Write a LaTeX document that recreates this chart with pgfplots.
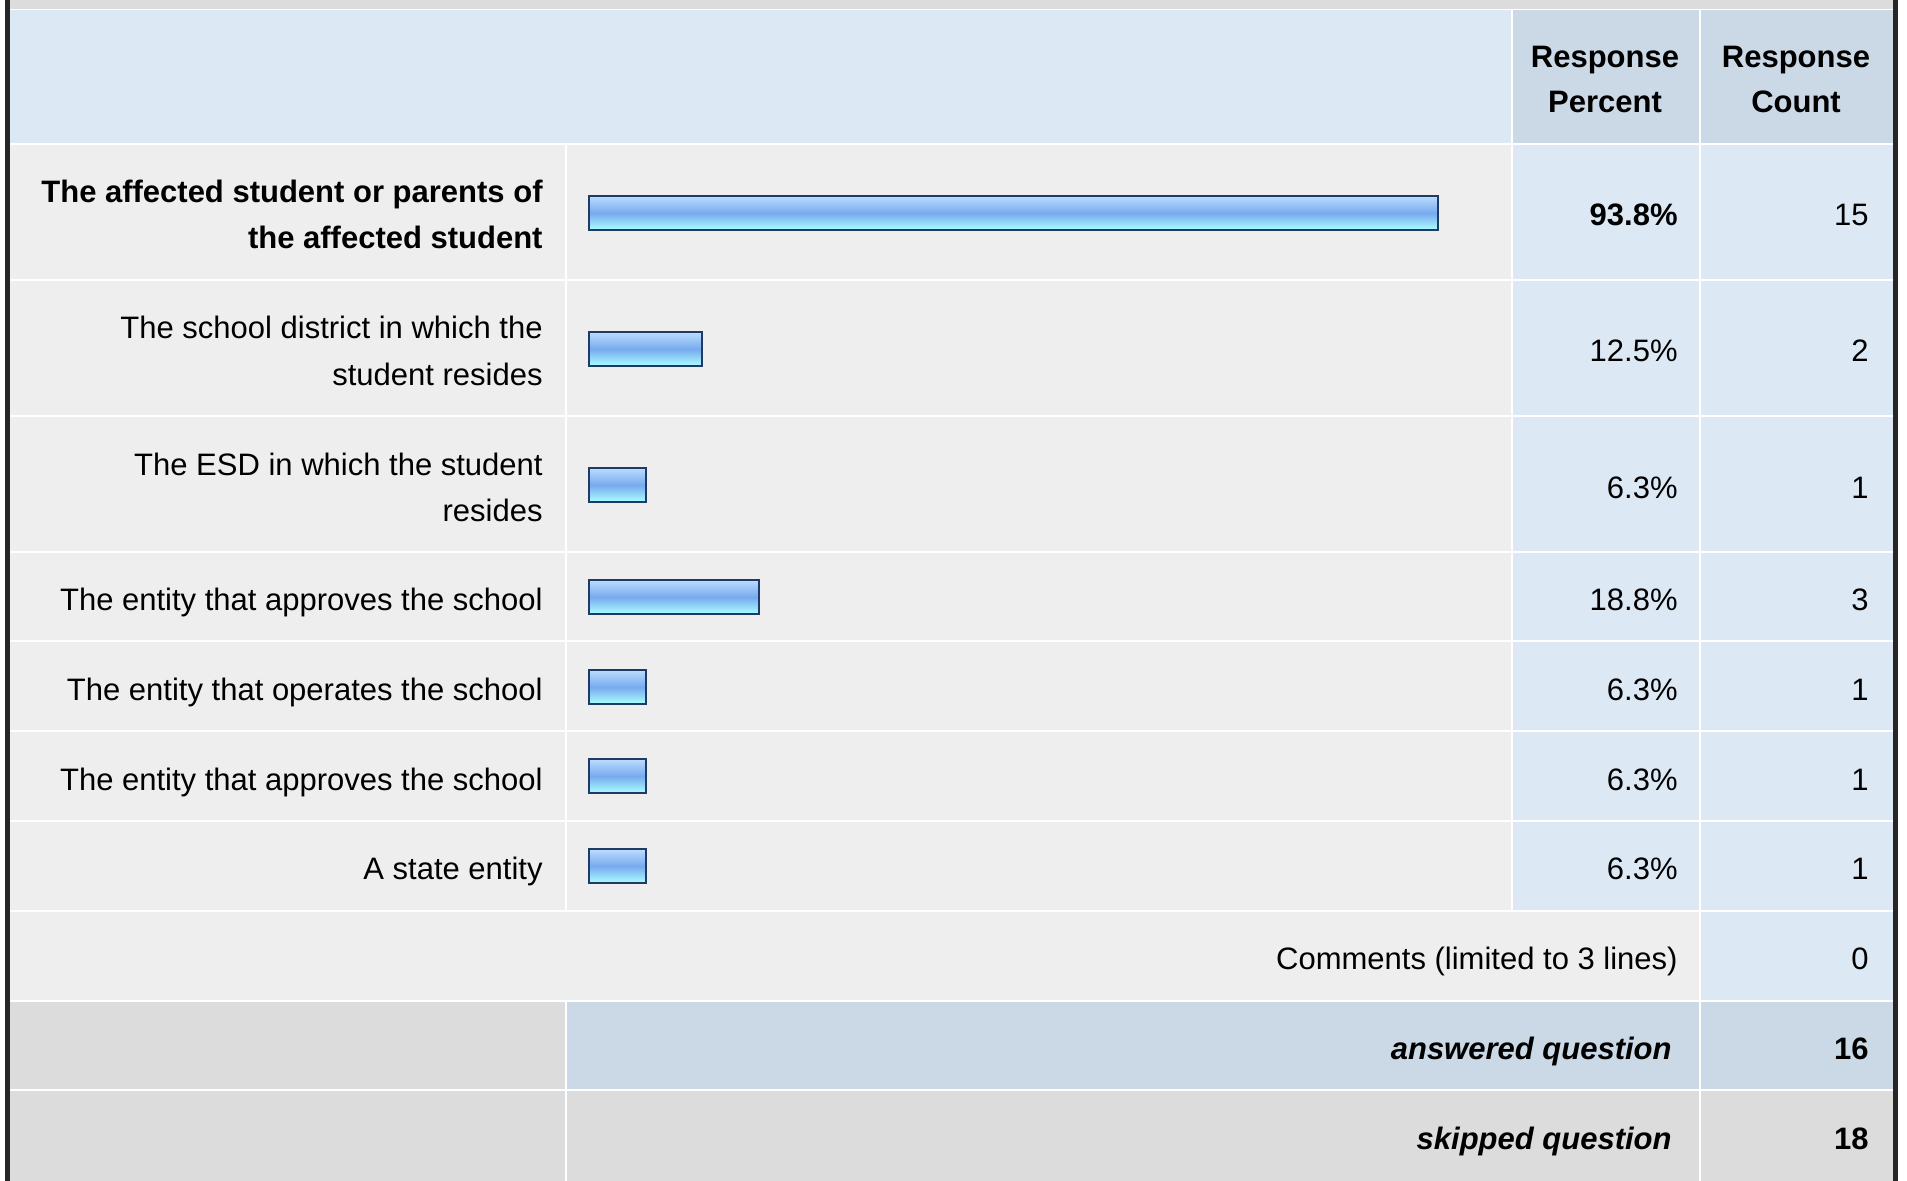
\documentclass[border=0pt]{standalone}
\usepackage{pgfplots}
\pgfplotsset{compat=1.18}
\usepackage{fontspec}
\setmainfont{Liberation Sans}
\definecolor{hdr}{HTML}{DDE8F5}
\definecolor{hdrd}{HTML}{CBD8E6}
\definecolor{cellg}{HTML}{EEEEEE}
\definecolor{darkg}{HTML}{DCDCDC}
\definecolor{navy}{HTML}{1F3A64}
\definecolor{btop}{HTML}{BBDDFF}
\definecolor{bmid}{HTML}{77AAEE}
\definecolor{bbot}{HTML}{AAFFFF}
\newcommand{\cell}[5]{\fill[#5] (#1+1.3,#3+1.3) rectangle (#2-1.3,#4-1.3);}
\newcommand{\f}{\fontsize{15.5}{23}\selectfont}
\begin{document}
\begin{tikzpicture}[x=0.5pt,y=-0.5pt]
\useasboundingbox (0,0) rectangle (1907,1181);
\fill[white] (0,0) rectangle (1907,1181);
\fill[darkg] (9,0) rectangle (1894,9.5);
% header
\cell{9}{1512}{9}{144}{hdr}
\cell{1512}{1700}{9}{144}{hdrd}
\cell{1700}{1894}{9}{144}{hdrd}
% data rows
\foreach \a/\b in {144/280,280/416,416/552,552/641,641/731,731/821,821/911}{
  \cell{9}{566}{\a}{\b}{cellg}
  \cell{566}{1512}{\a}{\b}{cellg}
  \cell{1512}{1700}{\a}{\b}{hdr}
  \cell{1700}{1894}{\a}{\b}{hdr}
}
% comments
\cell{9}{1700}{911}{1001}{cellg}
\cell{1700}{1894}{911}{1001}{hdr}
% answered
\cell{9}{566}{1001}{1090}{darkg}
\cell{566}{1700}{1001}{1090}{hdrd}
\cell{1700}{1894}{1001}{1090}{hdrd}
% skipped
\cell{9}{566}{1090}{1183}{darkg}
\cell{566}{1700}{1090}{1183}{darkg}
\cell{1700}{1894}{1090}{1183}{darkg}
% borders
\fill[black!85] (5,0) rectangle (9.5,1181);
\fill[black!85] (1893,0) rectangle (1897.5,1181);

\begin{axis}[at={(294.5pt,0pt)}, anchor=north west, scale only axis,
  width=452.5pt, height=590.5pt, xmin=0, xmax=100, ymin=0, ymax=1181,
  y dir=reverse, hide axis, clip=false, xbar, bar width=17pt]
\addplot[/pgf/bar shift=0pt, draw=navy, line width=1pt, top color=btop, bottom color=bbot, middle color=bmid] coordinates {(93.8,213)};
\addplot[/pgf/bar shift=0pt, draw=navy, line width=1pt, top color=btop, bottom color=bbot, middle color=bmid] coordinates {(12.5,349)};
\addplot[/pgf/bar shift=0pt, draw=navy, line width=1pt, top color=btop, bottom color=bbot, middle color=bmid] coordinates {(6.3,485)};
\addplot[/pgf/bar shift=0pt, draw=navy, line width=1pt, top color=btop, bottom color=bbot, middle color=bmid] coordinates {(18.8,597)};
\addplot[/pgf/bar shift=0pt, draw=navy, line width=1pt, top color=btop, bottom color=bbot, middle color=bmid] coordinates {(6.3,687)};
\addplot[/pgf/bar shift=0pt, draw=navy, line width=1pt, top color=btop, bottom color=bbot, middle color=bmid] coordinates {(6.3,776)};
\addplot[/pgf/bar shift=0pt, draw=navy, line width=1pt, top color=btop, bottom color=bbot, middle color=bmid] coordinates {(6.3,866)};
\end{axis}

% header text
\begin{scope}[every node/.style={inner sep=0pt, font=\f}]
\node[anchor=base, font=\f\bfseries] at (1605,68) {Response};
\node[anchor=base, font=\f\bfseries] at (1605,113) {Percent};
\node[anchor=base, font=\f\bfseries] at (1796,68) {Response};
\node[anchor=base, font=\f\bfseries] at (1796,113) {Count};
% labels
\node[anchor=base east, font=\f\bfseries] at (543,203) {The affected student or parents of};
\node[anchor=base east, font=\f\bfseries] at (543,249) {the affected student};
\node[anchor=base east] at (543,339) {The school district in which the};
\node[anchor=base east] at (543,386) {student resides};
\node[anchor=base east] at (543,476) {The ESD in which the student};
\node[anchor=base east] at (543,522) {resides};
\node[anchor=base east] at (543,611) {The entity that approves the school};
\node[anchor=base east] at (543,701) {The entity that operates the school};
\node[anchor=base east] at (543,791) {The entity that approves the school};
\node[anchor=base east] at (543,879) {A state entity};
% percents
\node[anchor=base east, font=\f\bfseries] at (1678,226) {93.8\%};
\node[anchor=base east] at (1678,362) {12.5\%};
\node[anchor=base east] at (1678,499) {6.3\%};
\node[anchor=base east] at (1678,611) {18.8\%};
\node[anchor=base east] at (1678,701) {6.3\%};
\node[anchor=base east] at (1678,791) {6.3\%};
\node[anchor=base east] at (1678,879) {6.3\%};
% counts
\node[anchor=base east] at (1869,226) {15};
\node[anchor=base east] at (1869,362) {2};
\node[anchor=base east] at (1869,499) {1};
\node[anchor=base east] at (1869,611) {3};
\node[anchor=base east] at (1869,701) {1};
\node[anchor=base east] at (1869,791) {1};
\node[anchor=base east] at (1869,879) {1};
% bottom rows
\node[anchor=base east] at (1678,969) {Comments (limited to 3 lines)};
\node[anchor=base east] at (1869,969) {0};
\node[anchor=base east, font=\f\bfseries\itshape] at (1672,1059) {answered question};
\node[anchor=base east, font=\f\bfseries] at (1869,1059) {16};
\node[anchor=base east, font=\f\bfseries\itshape] at (1672,1149) {skipped question};
\node[anchor=base east, font=\f\bfseries] at (1869,1149) {18};
\end{scope}
\end{tikzpicture}
\end{document}
